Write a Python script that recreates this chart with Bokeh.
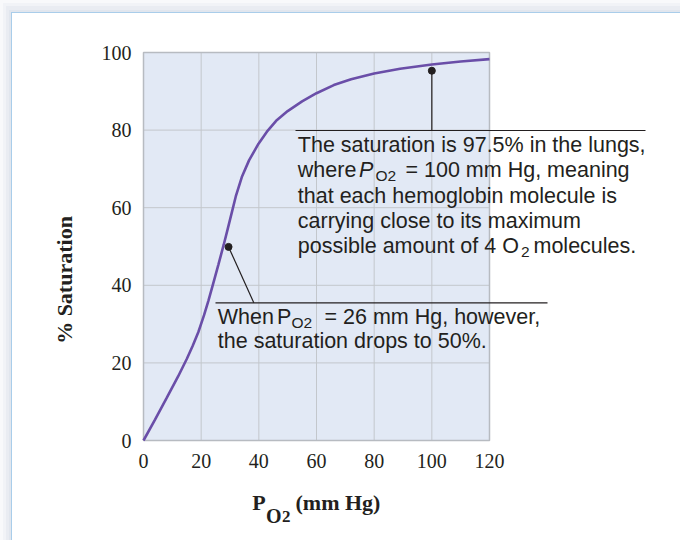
import math
from bokeh.plotting import figure
from bokeh.models import Range1d, Label, Arrow, FixedTicker
from bokeh.embed import file_html
from bokeh.resources import INLINE

# ---- data ----
po2 = [0, 4, 8, 12, 15, 17, 19, 21, 22.5, 24, 26, 27.8, 29.3, 30.7, 32, 34.1, 36.6,
       39.9, 42.8, 46, 50, 55, 60, 66, 72, 80, 89, 100, 110, 120]
saturation = [0, 5.4, 10.9, 16.5, 21, 24.3, 27.9, 32.3, 36, 40, 45.4, 50.4, 54.8, 59, 62.9,
              67.9, 72.2, 76.5, 79.6, 82.4, 84.9, 87.4, 89.5, 91.6, 93.1, 94.6, 95.8, 96.9, 97.7, 98.3]
x_ticks = [0, 20, 40, 60, 80, 100, 120]
y_ticks = [0, 20, 40, 60, 80, 100]
marker_po2 = [29.5, 100]
marker_sat = [49.9, 95.3]

INK = "#231f20"
CURVE = "#6a4ea8"
PANEL = "#e2e9f5"
GRID = "#c3c7cc"
SANS = "Liberation Sans"
SERIF = "Liberation Serif"

# layout geometry (page pixels)
W, H = 680, 540
LEFT, BOTTOM = 143, 440          # page position of data (0, 0)
SX = 346 / 120                   # px per mm Hg
SY = 388 / 100                   # px per % saturation

p = figure(frame_width=W, frame_height=H,
           min_border_left=0, min_border_right=0, min_border_top=0, min_border_bottom=0,
           x_range=Range1d(-LEFT / SX, (W - LEFT) / SX),
           y_range=Range1d((BOTTOM - H) / SY, BOTTOM / SY),
           output_backend="svg", toolbar_location=None, title=None)

p.border_fill_color = None
p.background_fill_color = None
p.outline_line_color = None
p.styles = {"box-shadow": ("inset 3px 3px 0 0 #f8f9fb, inset 6px 6px 0 0 #f1f3f7, "
                           "inset 9px 10px 0 0 #e9ecf2, inset 11px 12px 0 0 #e1e6ee, "
                           "inset 12px 13px 0 0 #a9cdea")}
p.xgrid.visible = False
p.ygrid.visible = False

# plot panel, grid and outline drawn in data space
n_x, n_y = len(x_ticks), len(y_ticks)
p.quad(left=[x_ticks[0]], right=[x_ticks[-1]], bottom=[y_ticks[0]], top=[y_ticks[-1]],
       fill_color=PANEL, line_color=None)
p.segment(x0=x_ticks, y0=[y_ticks[0]] * n_x, x1=x_ticks, y1=[y_ticks[-1]] * n_x,
          line_color=GRID, line_width=1)
p.segment(x0=[x_ticks[0]] * n_y, y0=y_ticks, x1=[x_ticks[-1]] * n_y, y1=y_ticks,
          line_color=GRID, line_width=1)
p.quad(left=[x_ticks[0]], right=[x_ticks[-1]], bottom=[y_ticks[0]], top=[y_ticks[-1]],
       fill_color=None, line_color="#b7bbc1", line_width=1.5)

# axes placed at the data origin
p.xaxis.ticker = FixedTicker(ticks=x_ticks)
p.yaxis.ticker = FixedTicker(ticks=y_ticks)
p.xaxis.fixed_location = x_ticks[0]
p.yaxis.fixed_location = y_ticks[0]
for ax in (p.xaxis[0], p.yaxis[0]):
    ax.axis_line_color = None
    ax.major_tick_line_color = None
    ax.minor_tick_line_color = None
    ax.major_tick_out = 0
    ax.major_tick_in = 0
    ax.major_label_text_font = SERIF
    ax.major_label_text_font_size = "20px"
    ax.major_label_text_color = INK
p.xaxis.major_label_standoff = 13
p.yaxis.major_label_standoff = 12

p.line(po2, saturation, line_color=CURVE, line_width=2.6)
p.scatter(marker_po2, marker_sat, size=7, color=INK)

# page-pixel -> data helpers for annotation layout
def dx(px):
    return (px - LEFT) / SX

def dy(py):
    return (BOTTOM - py) / SY

BASE_FIX = 0.35   # observed baseline offset of rendered labels, in em

def txt(s, x, y, size=21.5, font=SANS, style="normal", **kw):
    p.add_layout(Label(x=dx(x), y=dy(y - BASE_FIX * size), text=s, text_font=font,
                       text_font_size=f"{size}px", text_font_style=style,
                       text_color=INK, text_align="left",
                       text_baseline="alphabetic", **kw))

def seg(x0, y0, x1, y1):
    p.add_layout(Arrow(end=None, x_start=x0, y_start=y0, x_end=x1, y_end=y1,
                       line_color=INK, line_width=1.2))

SUB = 15.5
DROP = 3.5
# upper annotation
seg(dx(295), dy(130), dx(645), dy(130))
seg(marker_po2[1], marker_sat[1], marker_po2[1], dy(130))
txt("The saturation is 97.5% in the lungs,", 297.3, 151.7)
txt("where", 297.3, 176.7)
txt("P", 358.5, 176.7, style="italic")
txt("O2", 375, 176.7 + DROP, size=SUB)
txt("= 100 mm Hg, meaning", 405, 176.7)
txt("that each hemoglobin molecule is", 297.3, 202.7)
txt("carrying close to its maximum", 297.3, 228.3)
txt("possible amount of 4 O", 297.3, 253.3)
txt("2", 520.5, 253.3 + DROP, size=SUB)
txt("molecules.", 533, 253.3)

# lower annotation
seg(dx(215), dy(302.3), dx(547), dy(302.3))
seg(marker_po2[0], marker_sat[0], dx(253.3), dy(302.3))
txt("When", 217.3, 324.3)
txt("P", 276.5, 324.3)
txt("O2", 291, 324.3 + DROP, size=SUB)
txt("= 26 mm Hg, however,", 324, 324.3)
txt("the saturation drops to 50%.", 217.3, 348.3)

# axis titles
p.add_layout(Label(x=dx(64), y=dy(279.5), text="% Saturation", angle=math.pi / 2,
                   text_font=SERIF, text_font_size="22px", text_font_style="bold",
                   text_color=INK, text_align="center", text_baseline="middle"))
txt("P", 251.7, 510, size=22, font=SERIF, style="bold")
txt("O", 265.5, 522, size=20, font=SERIF, style="bold")
txt("2", 281.5, 522, size=17, font=SERIF, style="bold")
txt("(mm Hg)", 295, 510, size=22, font=SERIF, style="bold")

open("out.html", "w").write(file_html(p, INLINE))
